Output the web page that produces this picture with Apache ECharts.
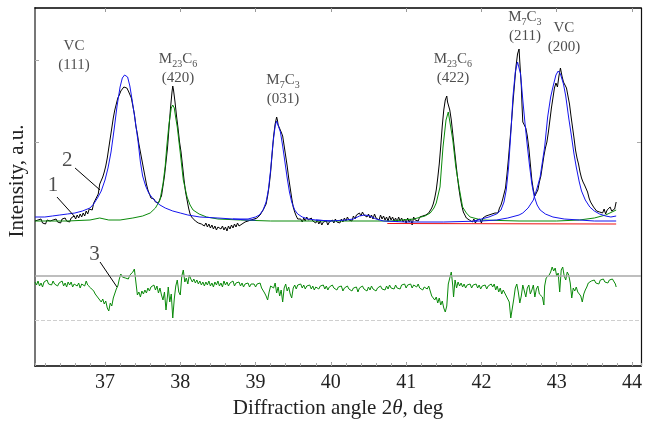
<!DOCTYPE html>
<html>
<head>
<meta charset="utf-8">
<script src="https://cdn.jsdelivr.net/npm/echarts@6/dist/echarts.min.js"></script>
<style>
html,body{margin:0;padding:0;background:#fff;}
#c{width:646px;height:423px;}
</style>
</head>
<body>
<div id="c"></div>
<script>
// ---------- DATA (2theta in deg, intensity in arbitrary units) ----------
const xTicks = [37, 38, 39, 40, 41, 42, 43, 44];
const xMin = 36.07, xMax = 44.12;
const yMin = -142, yMax = 216;
const yTicks = [82, 164];

const measured = [
[36.07,3],[36.09,1],[36.11,4],[36.13,2],[36.15,5],[36.17,1],[36.19,3],[36.21,0],[36.23,4],[36.25,2],[36.27,3],[36.29,1],[36.31,4],[36.33,2],[36.35,5],[36.37,2],[36.39,4],[36.41,1],[36.43,5],[36.45,3],[36.47,6],[36.49,3],[36.51,5],[36.53,2],[36.55,6],[36.57,4],[36.59,8],[36.61,5],[36.63,9],[36.65,6],[36.67,10],[36.69,7],[36.71,11],[36.73,8],[36.75,13],[36.77,10],[36.79,15],[36.81,17],[36.83,14],[36.85,21],[36.87,24],[36.89,26],
[36.91,30],[36.93,40],[36.95,42],[36.97,47],[36.99,52],[37.01,58],[37.03,66],[37.05,76],[37.07,86],[37.09,96],[37.11,106],[37.13,114],[37.15,120],[37.17,126],[37.19,129],[37.21,133],[37.23,131],[37.25,137],[37.27,139],[37.29,136],[37.31,133],[37.33,131],[37.35,126],[37.37,118],[37.39,110],[37.41,98],[37.43,90],[37.45,80],[37.47,72],[37.49,64],[37.51,56],[37.53,48],[37.55,40],[37.57,34],[37.59,30],[37.61,26],[37.63,24],[37.65,25],[37.67,22],[37.69,23],[37.71,21],[37.73,25],[37.75,28],[37.77,38],[37.79,48],[37.81,62],[37.83,76],[37.85,96],[37.87,116],[37.89,132],[37.90,138],[37.91,134],[37.93,122],[37.95,108],[37.97,96],[37.99,82],[38.01,72],[38.03,58],[38.05,44],[38.07,32],[38.09,24],[38.11,16],[38.13,10],[38.15,7],[38.17,5],[38.20,3],
[38.22,4],[38.24,1],[38.26,3],[38.28,0],[38.30,2],[38.32,-2],[38.34,1],[38.36,-3],[38.38,0],[38.40,-4],[38.42,-1],[38.44,-5],[38.46,-2],[38.48,-6],[38.50,-3],[38.52,-1],[38.54,-5],[38.56,-2],[38.58,-6],[38.60,-3],[38.62,-7],[38.64,-2],[38.66,-5],[38.68,-1],[38.70,-4],[38.72,0],[38.74,-3],[38.76,1],[38.78,-2],[38.80,-4],[38.82,0],[38.84,-2],[38.86,2],[38.88,0],[38.90,3],[38.92,1],[38.94,4],[38.96,2],[38.98,5],[39.00,4],[39.02,6],[39.04,8],[39.06,9],[39.08,11],[39.10,14],
[39.12,17],[39.14,20],[39.16,28],[39.18,38],[39.20,52],[39.22,70],[39.24,88],[39.26,100],[39.28,107],[39.29,104],[39.30,99],[39.31,101],[39.32,97],[39.34,92],[39.36,88],[39.38,78],[39.40,68],[39.42,58],[39.44,46],[39.46,36],[39.48,26],[39.50,17],[39.52,12],[39.54,8],[39.56,5],[39.58,3],
[39.60,5],[39.62,2],[39.64,6],[39.66,3],[39.68,7],[39.70,4],[39.72,2],[39.74,6],[39.76,3],[39.78,5],[39.80,1],[39.82,4],[39.84,0],[39.86,3],[39.88,-1],[39.90,2],[39.92,0],[39.94,3],[39.96,-1],[39.98,2],[40.00,0],[40.02,4],[40.04,1],[40.06,5],[40.08,2],[40.10,4],[40.12,1],[40.14,5],[40.16,2],[40.18,6],[40.20,3],[40.22,7],[40.24,4],[40.26,6],[40.28,3],[40.30,8],[40.32,5],[40.34,9],[40.36,7],[40.38,11],[40.40,8],[40.42,12],[40.44,9],[40.46,11],[40.48,7],[40.50,10],[40.52,6],[40.54,9],[40.56,5],[40.58,10],[40.60,6],[40.62,8],[40.64,4],[40.66,9],[40.68,5],[40.70,8],[40.72,4],[40.74,7],[40.76,3],[40.78,8],[40.80,4],[40.82,7],[40.84,3],[40.86,6],[40.88,2],[40.90,7],[40.92,3],[40.94,6],[40.96,2],[40.98,5],[41.00,1],[41.02,6],[41.04,2],[41.06,5],[41.08,-1],[41.10,7],[41.12,4],[41.14,6],[41.16,3],[41.18,7],[41.20,5],[41.22,8],[41.24,6],[41.26,9],[41.28,8],[41.30,11],
[41.32,13],[41.34,16],[41.36,20],[41.38,26],[41.40,34],[41.42,46],[41.44,60],[41.46,78],[41.48,98],[41.50,114],[41.52,124],[41.54,128],[41.55,122],[41.56,124],[41.58,114],[41.60,104],[41.62,90],[41.64,76],[41.66,62],[41.68,48],[41.70,36],[41.72,26],[41.74,18],[41.76,12],[41.78,9],[41.80,6],[41.82,8],[41.84,4],
[41.86,6],[41.88,2],[41.90,5],[41.92,1],[41.94,4],[41.96,2],[41.98,5],[42.00,1],[42.02,6],[42.04,4],[42.06,8],[42.08,6],[42.10,9],[42.12,7],[42.14,10],[42.16,8],[42.18,11],[42.20,12],[42.22,11],[42.24,16],[42.26,19],[42.28,24],[42.30,30],
[42.32,36],[42.34,50],[42.36,66],[42.38,84],[42.40,102],[42.42,122],[42.44,140],[42.46,158],[42.48,170],[42.50,175],[42.51,162],[42.52,150],[42.53,138],[42.54,118],[42.55,102],[42.57,99],[42.59,96],[42.61,88],[42.63,76],[42.65,60],[42.67,44],[42.69,34],[42.71,28],[42.73,30],[42.75,34],[42.77,42],[42.79,48],[42.81,58],[42.83,68],[42.85,76],[42.87,82],[42.89,92],[42.91,104],[42.93,116],[42.95,126],[42.97,136],[42.99,141],[43.01,137],[43.03,148],[43.05,156],[43.06,158],[43.07,148],[43.09,142],[43.11,143],[43.13,136],[43.15,128],[43.17,120],[43.19,108],[43.21,97],[43.23,86],[43.25,74],[43.27,66],[43.29,60],[43.31,52],[43.33,46],[43.35,42],[43.37,39],[43.39,37],[43.41,32],[43.43,26],[43.45,22],[43.47,20],[43.49,17],[43.51,16],[43.53,13],[43.55,15],[43.57,12],[43.59,14],[43.61,11],[43.63,15],[43.65,10],[43.67,14],[43.69,12],[43.71,17],[43.73,13],[43.75,15],[43.77,15],[43.79,22]
];

const fitVC111 = [
[36.07,7],[36.2,7],[36.3,8],[36.4,9],[36.5,10],[36.6,11],[36.7,13],[36.8,16],[36.85,20],[36.9,26],[36.95,33],[37.0,44],[37.04,56],[37.08,72],[37.12,94],[37.16,118],[37.20,137],[37.23,146],[37.26,149],[37.28,149],[37.30,147],[37.33,138],[37.36,124],[37.40,104],[37.44,82],[37.47,62],[37.50,48],[37.54,38],[37.58,31],[37.63,26],[37.68,22],[37.73,19],[37.80,16],[37.90,13],[38.0,11],[38.1,9],[38.26,7],[38.5,6],[38.7,5],[38.9,4],[39.0,4]
];
const fitM7C3_031 = [
[38.7,5],[38.9,5],[39.0,7],[39.05,9],[39.10,14],[39.14,22],[39.17,34],[39.20,54],[39.23,80],[39.26,98],[39.28,103],[39.30,101],[39.33,92],[39.36,78],[39.39,62],[39.42,46],[39.45,32],[39.48,22],[39.52,14],[39.56,10],[39.62,7],[39.70,5],[39.80,4],[40.0,3]
];
const fitBlueBase = [
[39.8,4],[40.0,3],[40.2,4],[40.3,5],[40.38,8],[40.45,9],[40.52,8],[40.6,5],[40.7,3],[41.0,2],[41.5,2],[42.0,3]
];
const fitM7C3_211 = [
[41.9,3],[42.0,5],[42.1,7],[42.2,10],[42.26,14],[42.30,22],[42.33,34],[42.36,56],[42.39,90],[42.42,128],[42.45,152],[42.48,162],[42.50,162],[42.52,150],[42.55,124],[42.58,100],[42.61,78],[42.64,58],[42.67,40],[42.70,28],[42.74,19],[42.78,14],[42.85,10],[42.95,7],[43.1,5],[43.3,4],[43.5,3],[43.79,3]
];
const fitVC200 = [
[42.0,3],[42.2,4],[42.35,6],[42.5,9],[42.55,11],[42.62,16],[42.69,24],[42.74,36],[42.78,47],[42.81,62],[42.84,77],[42.88,107],[42.92,127],[42.95,137],[42.99,149],[43.02,153],[43.05,150],[43.09,140],[43.12,128],[43.16,106],[43.19,91],[43.23,70],[43.26,57],[43.30,42],[43.33,33],[43.38,24],[43.44,17],[43.50,13],[43.57,10],[43.65,8],[43.72,7],[43.79,8]
];
const fitM23C6 = [
[36.07,3],[36.5,3],[36.8,4],[36.93,6],[37.05,4],[37.2,4],[37.37,6],[37.5,8],[37.60,11],[37.67,16],[37.73,24],[37.77,40],[37.80,58],[37.82,77],[37.85,100],[37.88,116],[37.90,119],[37.92,116],[37.94,106],[37.96,97],[38.00,71],[38.04,44],[38.09,27],[38.13,19],[38.17,14],[38.25,10],[38.35,7],[38.5,5],[38.8,4],[39.2,3],[40.0,3],[40.8,3],[41.1,5],[41.25,8],[41.32,11],[41.37,16],[41.40,21],[41.45,37],[41.49,77],[41.53,104],[41.56,112],[41.58,110],[41.62,84],[41.66,57],[41.71,34],[41.75,17],[41.80,11],[41.85,7],[42.0,4],[42.5,3],[43.0,3],[43.3,4],[43.5,6],[43.65,9],[43.79,14]
];
const background = [[40.75,0.5],[43.79,0]];

const residual = [
[36.07,-58],[36.09,-61],[36.11,-57],[36.13,-62],[36.15,-59],[36.17,-63],[36.19,-58],[36.21,-60],[36.23,-56],[36.25,-60],[36.27,-58],[36.29,-61],[36.31,-57],[36.33,-60],[36.35,-58],[36.37,-62],[36.39,-59],[36.41,-61],[36.43,-57],[36.45,-62],[36.47,-59],[36.49,-63],[36.51,-58],[36.53,-61],[36.55,-58],[36.57,-63],[36.59,-60],[36.61,-58],[36.63,-62],[36.65,-59],[36.67,-64],[36.69,-60],[36.71,-58],[36.73,-62],[36.75,-57],[36.77,-61],[36.79,-59],[36.81,-64],[36.83,-62],[36.85,-67],[36.87,-70],[36.89,-68],[36.91,-74],[36.93,-72],[36.95,-78],[36.97,-75],[36.99,-80],[37.01,-77],[37.03,-84],[37.05,-87],[37.07,-79],[37.09,-82],[37.11,-74],[37.13,-76],[37.15,-65],[37.17,-62],[37.19,-55],[37.21,-50],[37.23,-53],[37.25,-51],[37.27,-54],[37.29,-52],[37.31,-55],[37.33,-51],[37.35,-53],[37.37,-48],[37.39,-45],[37.41,-58],[37.43,-71],[37.45,-68],[37.47,-73],[37.49,-67],[37.51,-70],[37.53,-66],[37.55,-69],[37.57,-64],[37.59,-67],[37.61,-63],[37.63,-65],[37.65,-61],[37.67,-66],[37.69,-62],[37.71,-69],[37.73,-64],[37.75,-71],[37.77,-76],[37.79,-68],[37.81,-86],[37.83,-72],[37.84,-63],[37.86,-78],[37.88,-70],[37.90,-94],[37.92,-75],[37.94,-62],[37.96,-56],[37.98,-68],[38.00,-71],[38.02,-52],[38.04,-46],[38.06,-58],[38.08,-54],[38.10,-60],[38.12,-51],[38.14,-55],[38.16,-58],[38.18,-55],[38.20,-59],[38.22,-56],[38.24,-60],[38.26,-57],[38.28,-61],[38.30,-58],[38.32,-62],[38.34,-58],[38.36,-61],[38.38,-57],[38.40,-62],[38.42,-59],[38.44,-63],[38.46,-58],[38.48,-61],[38.50,-57],[38.52,-62],[38.54,-59],[38.56,-63],[38.58,-57],[38.60,-61],[38.62,-58],[38.64,-62],[38.66,-59],[38.68,-61],[38.70,-57],[38.72,-62],[38.74,-59],[38.76,-61],[38.78,-58],[38.80,-62],[38.82,-59],[38.84,-63],[38.86,-60],[38.88,-62],[38.90,-59],[38.92,-63],[38.94,-60],[38.96,-62],[38.98,-60],[39.00,-63],[39.02,-60],[39.04,-62],[39.06,-59],[39.08,-64],[39.10,-66],[39.12,-69],[39.14,-72],[39.16,-76],[39.18,-68],[39.20,-62],[39.22,-60],[39.24,-64],[39.26,-59],[39.28,-69],[39.30,-63],[39.32,-72],[39.34,-66],[39.36,-78],[39.38,-64],[39.40,-60],[39.42,-67],[39.44,-63],[39.46,-70],[39.48,-74],[39.50,-64],[39.52,-61],[39.54,-65],[39.56,-61],[39.58,-63],[39.60,-60],[39.62,-64],[39.64,-61],[39.66,-65],[39.68,-62],[39.70,-64],[39.72,-61],[39.74,-65],[39.76,-62],[39.78,-66],[39.80,-63],[39.82,-61],[39.84,-65],[39.86,-62],[39.88,-64],[39.90,-61],[39.92,-65],
[39.94,-62],[39.96,-66],[39.98,-63],[40.00,-65],[40.02,-61],[40.04,-64],[40.06,-62],[40.08,-66],[40.10,-63],[40.12,-65],[40.14,-62],[40.16,-67],[40.18,-64],[40.20,-66],[40.22,-62],[40.24,-65],[40.26,-63],[40.28,-67],[40.30,-64],[40.32,-66],[40.34,-63],[40.36,-68],[40.38,-64],[40.40,-66],[40.42,-62],[40.44,-65],[40.46,-63],[40.48,-67],[40.50,-63],[40.52,-66],[40.54,-62],[40.56,-65],[40.58,-63],[40.60,-67],[40.62,-64],[40.64,-66],[40.66,-62],[40.68,-65],[40.70,-63],[40.72,-66],[40.74,-62],[40.76,-65],[40.78,-61],[40.80,-64],[40.82,-62],[40.84,-65],[40.86,-61],[40.88,-64],[40.90,-62],[40.92,-65],[40.94,-61],[40.96,-63],[40.98,-60],[41.00,-64],[41.02,-61],[41.04,-63],[41.06,-60],[41.08,-64],[41.10,-61],[41.12,-59],[41.14,-63],[41.16,-60],[41.18,-64],[41.20,-62],[41.22,-66],[41.24,-63],[41.26,-62],[41.28,-65],[41.30,-62],[41.32,-67],[41.34,-72],[41.36,-70],[41.38,-76],[41.40,-73],[41.42,-79],[41.44,-74],[41.46,-81],[41.48,-77],[41.50,-84],[41.52,-88],[41.54,-82],[41.56,-60],[41.58,-54],[41.60,-48],[41.62,-62],[41.63,-73],[41.65,-56],[41.67,-64],[41.69,-58],[41.71,-62],[41.73,-59],[41.75,-63],[41.77,-60],[41.79,-64],[41.81,-61],[41.83,-63],[41.85,-60],[41.87,-64],[41.89,-61],[41.91,-63],[41.93,-60],[41.95,-64],[41.97,-61],[41.99,-65],[42.01,-62],[42.03,-64],[42.05,-61],[42.07,-65],[42.09,-62],[42.11,-64],[42.13,-60],[42.15,-63],[42.17,-60],[42.19,-66],[42.21,-62],[42.23,-68],[42.25,-64],[42.27,-70],[42.29,-66],[42.31,-69],[42.33,-72],[42.35,-70],[42.37,-78],[42.39,-94],[42.41,-95],[42.43,-75],[42.45,-64],[42.47,-60],[42.49,-68],[42.51,-79],[42.53,-72],[42.55,-61],[42.57,-67],[42.59,-73],[42.61,-64],[42.63,-61],[42.65,-70],[42.67,-66],[42.69,-61],[42.71,-73],[42.73,-65],[42.75,-62],[42.77,-70],[42.79,-68],[42.81,-73],[42.83,-81],[42.84,-62],[42.86,-54],[42.88,-53],[42.90,-51],[42.92,-48],[42.94,-43],[42.96,-47],[42.98,-44],[43.00,-52],[43.02,-49],[43.04,-68],[43.06,-46],[43.08,-43],[43.10,-52],[43.12,-56],[43.14,-48],[43.16,-51],[43.18,-59],[43.20,-74],[43.22,-64],[43.24,-67],[43.26,-63],[43.28,-68],[43.30,-66],[43.32,-72],[43.34,-78],[43.36,-70],[43.38,-66],[43.40,-63],[43.42,-59],[43.44,-60],[43.46,-57],[43.48,-59],[43.50,-56],[43.52,-59],[43.54,-57],[43.56,-60],[43.58,-56],[43.60,-58],[43.62,-55],[43.64,-58],[43.66,-56],[43.68,-59],[43.70,-56],[43.72,-58],[43.74,-55],[43.76,-57],[43.78,-60],[43.79,-63]
];
const residualZero = -52;
const residualLower = -96;

// peak annotations: position (2theta, intensity) and text
const peakLabelX = [36.588, 37.970, 39.364, 41.622, 42.578, 43.096];
const peakLabelY = [168, 155, 134, 155, 197, 186];
const peakLabelText = [
  '{n|VC}\n{n|(111)}',
  '{n|M}{s|23}{n|C}{s|6}\n{n|(420)}',
  '{n|M}{s|7}{n|C}{s|3}\n{n|(031)}',
  '{n|M}{s|23}{n|C}{s|6}\n{n|(422)}',
  '{n|M}{s|7}{n|C}{s|3}\n{n|(211)}',
  '{n|VC}\n{n|(200)}'
];
// curve numbers and their leader lines
const curveNumX = [36.31, 36.50, 36.86];
const curveNumY = [39, 64, -30];
const curveNumText = ['1', '2', '3'];
const leader1 = [[36.362, 27], [36.602, 7]];
const leader2 = [[36.602, 56], [36.934, 34]];
const leader3 = [[36.934, -38], [37.159, -63]];

// ---------- CHART ----------
const FONT = '"Liberation Serif", "Times New Roman", serif';
const chart = echarts.init(document.getElementById('c'), null, {renderer: 'canvas'});

function lineSeries(data, color, z) {
  return {
    type: 'line', data: data, showSymbol: false, symbol: 'none',
    lineStyle: {color: color, width: 1}, z: z || 2, silent: true, animation: false
  };
}

const peakLabels = peakLabelX.map((x, i) => ({value: [x, peakLabelY[i]], name: peakLabelText[i]}));
const numLabels = curveNumX.map((x, i) => ({value: [x, curveNumY[i]], name: curveNumText[i]}));

const option = {
  animation: false,
  backgroundColor: '#ffffff',
  grid: {left: 35, right: 5, top: 8, bottom: 57, outerBoundsMode: 'none', containLabel: false},
  xAxis: [
    {
      type: 'value', min: xMin, max: xMax, position: 'bottom',
      axisLine: {show: true, onZero: false, lineStyle: {color: '#000', width: 1.5}},
      axisTick: {show: true, inside: true, length: 4, customValues: xTicks, lineStyle: {color: '#999'}},
      axisLabel: {show: true, customValues: xTicks, margin: 7, fontFamily: FONT, fontSize: 20, color: '#222',
                  formatter: v => String(Math.round(v))},
      splitLine: {show: false},
      name: '{a|Diffraction angle 2}{b|θ}{a|, deg}',
      nameLocation: 'middle', nameGap: 31,
      nameTextStyle: {rich: {
        a: {fontFamily: FONT, fontSize: 21, color: '#222'},
        b: {fontFamily: FONT, fontSize: 21, fontStyle: 'italic', color: '#222'}
      }}
    },
    {
      type: 'value', min: xMin, max: xMax, position: 'bottom', splitNumber: 40,
      axisLine: {show: false, onZero: false},
      axisTick: {show: true, inside: true, length: 3, lineStyle: {color: '#aaa'}},
      axisLabel: {show: false}, splitLine: {show: false}
    },
    {
      type: 'value', min: xMin, max: xMax, position: 'top',
      axisLine: {show: true, onZero: false, lineStyle: {color: '#000', width: 1.5}},
      axisTick: {show: true, inside: true, length: 4, customValues: xTicks, lineStyle: {color: '#999'}},
      axisLabel: {show: false}, splitLine: {show: false}
    }
  ],
  yAxis: [
    {
      type: 'value', min: yMin, max: yMax, position: 'left',
      axisLine: {show: true, onZero: false, lineStyle: {color: '#777', width: 2}},
      axisTick: {show: true, inside: true, length: 4, customValues: yTicks, lineStyle: {color: '#aaa'}},
      axisLabel: {show: false}, splitLine: {show: false},
      name: 'Intensity, a.u.', nameLocation: 'middle', nameGap: 7, nameRotate: 90,
      nameTextStyle: {fontFamily: FONT, fontSize: 21, color: '#222', padding: [0, 0, 0, 12]}
    },
    {
      type: 'value', min: yMin, max: yMax, position: 'right',
      axisLine: {show: true, onZero: false, lineStyle: {color: '#111', width: 1.2}},
      axisTick: {show: true, inside: true, length: 4, customValues: [82], lineStyle: {color: '#aaa'}},
      axisLabel: {show: false}, splitLine: {show: false}
    }
  ],
  series: [
    Object.assign(lineSeries(residual, '#0a8a0a', 2), {
      markLine: {
        silent: true, symbol: 'none', label: {show: false}, animation: false,
        data: [
          {yAxis: residualZero, lineStyle: {color: '#a8a8a8', width: 1.5, type: 'solid'}},
          {yAxis: residualLower, lineStyle: {color: '#cfcfcf', width: 1, type: 'dashed'}}
        ]
      }
    }),
    lineSeries(measured, '#000000', 3),
    lineSeries(background, '#ee1111', 4),
    lineSeries(fitM23C6, '#0a8a0a', 5),
    lineSeries(fitBlueBase, '#1515ee', 6),
    lineSeries(fitVC111, '#1515ee', 6),
    lineSeries(fitM7C3_031, '#1515ee', 6),
    lineSeries(fitM7C3_211, '#1515ee', 6),
    lineSeries(fitVC200, '#1515ee', 6),
    lineSeries(leader1, '#000', 7),
    lineSeries(leader2, '#000', 7),
    lineSeries(leader3, '#000', 7),
    {
      type: 'scatter', data: peakLabels, symbolSize: 0, silent: true, z: 8,
      label: {
        show: true, position: 'inside', formatter: p => p.name, color: '#222',
        rich: {
          n: {fontFamily: FONT, fontSize: 15, lineHeight: 19, color: '#222'},
          s: {fontFamily: FONT, fontSize: 10, lineHeight: 19, verticalAlign: 'bottom', color: '#222'}
        }
      }
    },
    {
      type: 'scatter', data: numLabels, symbolSize: 0, silent: true, z: 8,
      label: {show: true, position: 'inside', formatter: p => p.name, color: '#222',
              fontFamily: FONT, fontSize: 21}
    }
  ]
};
chart.setOption(option);
</script>
</body>
</html>
